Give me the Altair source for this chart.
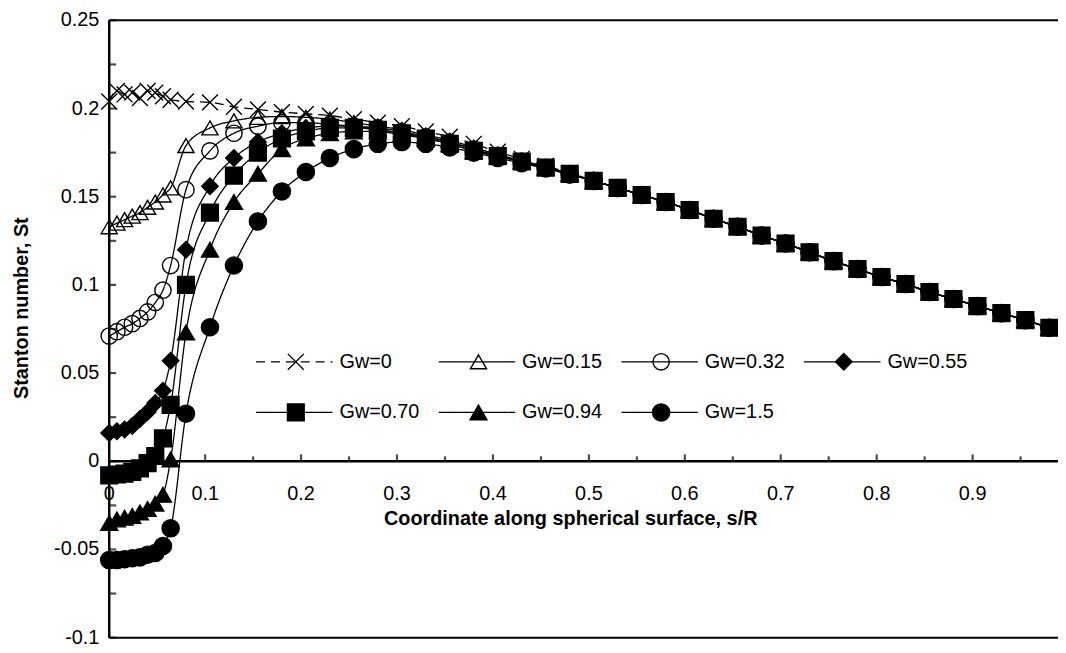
import altair as alt
import pandas as pd

# ---------------- data ----------------
s_R = [0, 0.008, 0.016, 0.024, 0.032, 0.04, 0.048, 0.056, 0.064,
       0.08, 0.105, 0.13, 0.155, 0.18, 0.205, 0.23, 0.255, 0.28, 0.305, 0.33, 0.355, 0.38,
       0.405, 0.43, 0.455, 0.48, 0.505, 0.53, 0.555, 0.58, 0.605, 0.63, 0.655, 0.68,
       0.705, 0.73, 0.755, 0.78, 0.805, 0.83, 0.855, 0.88, 0.905, 0.93, 0.955, 0.98]

St_Gw0 = [0.204, 0.210, 0.208, 0.209, 0.206, 0.210, 0.209, 0.207, 0.205,
          0.204, 0.2035, 0.201, 0.1995, 0.198, 0.197, 0.196, 0.194, 0.192, 0.190, 0.187, 0.184, 0.180,
          0.1755, 0.1715, 0.1675, 0.1635, 0.159, 0.155, 0.151, 0.147, 0.1425, 0.1375, 0.133, 0.128,
          0.1235, 0.1185, 0.1135, 0.109, 0.1045, 0.1005, 0.096, 0.092, 0.088, 0.084, 0.080, 0.0757]
St_Gw015 = [0.133, 0.135, 0.137, 0.139, 0.141, 0.144, 0.147, 0.151, 0.155,
            0.179, 0.189, 0.193, 0.195, 0.1955, 0.195, 0.194, 0.192, 0.190, 0.188, 0.185, 0.182, 0.178,
            0.174, 0.1705, 0.167, 0.163, 0.159, 0.155, 0.151, 0.147, 0.1425, 0.1375, 0.133, 0.128,
            0.1235, 0.1185, 0.1135, 0.109, 0.1045, 0.1005, 0.096, 0.092, 0.088, 0.084, 0.080, 0.0757]
St_Gw032 = [0.071, 0.0735, 0.076, 0.078, 0.081, 0.0847, 0.090, 0.097, 0.111,
            0.154, 0.176, 0.186, 0.190, 0.192, 0.192, 0.191, 0.190, 0.189, 0.187, 0.184, 0.181, 0.177,
            0.1735, 0.170, 0.1665, 0.163, 0.159, 0.155, 0.151, 0.147, 0.1425, 0.1375, 0.133, 0.128,
            0.1235, 0.1185, 0.1135, 0.109, 0.1045, 0.1005, 0.096, 0.092, 0.088, 0.084, 0.080, 0.0757]
St_Gw055 = [0.016, 0.017, 0.018, 0.020, 0.024, 0.028, 0.033, 0.040, 0.057,
            0.120, 0.156, 0.172, 0.181, 0.186, 0.189, 0.190, 0.190, 0.188, 0.186, 0.184, 0.181, 0.177,
            0.173, 0.170, 0.1665, 0.163, 0.159, 0.155, 0.151, 0.147, 0.1425, 0.1375, 0.133, 0.128,
            0.1235, 0.1185, 0.1135, 0.109, 0.1045, 0.1005, 0.096, 0.092, 0.088, 0.084, 0.080, 0.0757]
St_Gw070 = [-0.008, -0.0075, -0.007, -0.006, -0.004, -0.001, 0.003, 0.013, 0.032,
            0.100, 0.141, 0.162, 0.175, 0.183, 0.187, 0.189, 0.189, 0.188, 0.186, 0.183, 0.180, 0.176,
            0.173, 0.170, 0.1665, 0.163, 0.159, 0.155, 0.151, 0.147, 0.1425, 0.1375, 0.133, 0.128,
            0.1235, 0.1185, 0.1135, 0.109, 0.1045, 0.1005, 0.096, 0.092, 0.088, 0.084, 0.080, 0.0757]
St_Gw094 = [-0.035, -0.033, -0.032, -0.031, -0.029, -0.027, -0.024, -0.019, 0.001,
            0.073, 0.120, 0.147, 0.163, 0.177, 0.183, 0.186, 0.187, 0.187, 0.185, 0.183, 0.180, 0.176,
            0.173, 0.170, 0.1665, 0.163, 0.159, 0.155, 0.151, 0.147, 0.1425, 0.1375, 0.133, 0.128,
            0.1235, 0.1185, 0.1135, 0.109, 0.1045, 0.1005, 0.096, 0.092, 0.088, 0.084, 0.080, 0.0757]
St_Gw15 = [-0.056, -0.056, -0.0555, -0.055, -0.0545, -0.053, -0.052, -0.048, -0.038,
           0.027, 0.076, 0.111, 0.136, 0.153, 0.164, 0.172, 0.177, 0.180, 0.181, 0.180, 0.178, 0.175,
           0.172, 0.169, 0.166, 0.1625, 0.159, 0.155, 0.151, 0.147, 0.1425, 0.1375, 0.133, 0.128,
           0.1235, 0.1185, 0.1135, 0.109, 0.1045, 0.1005, 0.096, 0.092, 0.088, 0.084, 0.080, 0.0757]

series_names = ["Gw=0", "Gw=0.15", "Gw=0.32", "Gw=0.55", "Gw=0.70", "Gw=0.94", "Gw=1.5"]
series_values = [St_Gw0, St_Gw015, St_Gw032, St_Gw055, St_Gw070, St_Gw094, St_Gw15]

x_tick_values = [0, 0.1, 0.2, 0.3, 0.4, 0.5, 0.6, 0.7, 0.8, 0.9]
x_tick_labels = ["0", "0.1", "0.2", "0.3", "0.4", "0.5", "0.6", "0.7", "0.8", "0.9"]
x_minor_ticks = [0.05, 0.15, 0.25, 0.35, 0.45, 0.55, 0.65, 0.75, 0.85, 0.95]
y_tick_values = [-0.1, -0.05, 0, 0.05, 0.1, 0.15, 0.2, 0.25]
y_tick_labels = ["-0.1", "-0.05", "0", "0.05", "0.1", "0.15", "0.2", "0.25"]
y_all_ticks = [-0.1, -0.075, -0.05, -0.025, 0, 0.025, 0.05, 0.075, 0.1, 0.125, 0.15, 0.175, 0.2, 0.225, 0.25]

x_title = "Coordinate along spherical surface, s/R"
y_title = "Stanton number, St"

# ---------------- styling ----------------
FONT = "Liberation Sans"
FS = 20
X_DOMAIN = [0, 0.989]
Y_DOMAIN = [-0.1, 0.25]
W, H = 956, 622

X_CROSS = "M-1,-1L1,1M-1,1L1,-1"
shape_range = [X_CROSS, "triangle-up", "circle", "diamond", "square", "triangle-up", "circle"]
fill_range = ["transparent", "transparent", "transparent", "black", "black", "black", "black"]
size_range = [256, 300, 289, 256, 225, 300, 289]
dash_range = [[9, 6], [1, 0], [1, 0], [1, 0], [1, 0], [1, 0], [1, 0]]

rows = []
for name, vals in zip(series_names, series_values):
    for xv, yv in zip(s_R, vals):
        rows.append({"series": name, "x": xv, "y": yv})
df = pd.DataFrame(rows)

xscale = alt.Scale(domain=X_DOMAIN, nice=False, zero=False)
yscale = alt.Scale(domain=Y_DOMAIN, nice=False, zero=False)

shape_enc = alt.Shape("series:N", scale=alt.Scale(domain=series_names, range=shape_range), legend=None)
fill_enc = alt.Fill("series:N", scale=alt.Scale(domain=series_names, range=fill_range), legend=None)
size_enc = alt.Size("series:N", scale=alt.Scale(domain=series_names, range=size_range), legend=None)
dash_enc = alt.StrokeDash("series:N", scale=alt.Scale(domain=series_names, range=dash_range), legend=None)

lines = alt.Chart(df).mark_line(color="black", strokeWidth=1.3, interpolate="monotone").encode(
    x=alt.X("x:Q", scale=xscale, axis=None),
    y=alt.Y("y:Q", scale=yscale, axis=None),
    detail="series:N",
    strokeDash=dash_enc,
)

points = alt.Chart(df).mark_point(filled=True, stroke="black", strokeWidth=1.4, opacity=1).encode(
    x=alt.X("x:Q", axis=None),
    y=alt.Y("y:Q", axis=None),
    shape=shape_enc, fill=fill_enc, size=size_enc,
)

# ---------------- axes (drawn as marks so the x axis can cross at St = 0) ----------------
y_line = alt.Chart(pd.DataFrame({"a": [Y_DOMAIN[0]], "b": [Y_DOMAIN[1]]})).mark_rule(
    color="black", strokeWidth=2.5).encode(
    x=alt.XDatum(0, axis=None), y=alt.Y("a:Q", axis=None), y2="b:Q")
x_line = alt.Chart(pd.DataFrame({"a": [X_DOMAIN[0]], "b": [X_DOMAIN[1]]})).mark_rule(
    color="black", strokeWidth=2.5).encode(
    y=alt.YDatum(0, axis=None), x=alt.X("a:Q", axis=None), x2="b:Q")
frame = alt.Chart(pd.DataFrame({"a": [X_DOMAIN[0]] * 2, "b": [X_DOMAIN[1]] * 2,
                                "v": [Y_DOMAIN[1], Y_DOMAIN[0]]})).mark_rule(
    color="black", strokeWidth=2).encode(
    y=alt.Y("v:Q", axis=None), x=alt.X("a:Q", axis=None), x2="b:Q")

xt_major = alt.Chart(pd.DataFrame({"v": x_tick_values[1:]})).mark_tick(
    orient="vertical", size=7, thickness=2.2, color="black", yOffset=-3.5).encode(
    x=alt.X("v:Q", axis=None), y=alt.YDatum(0, axis=None))
xt_minor = alt.Chart(pd.DataFrame({"v": x_minor_ticks})).mark_tick(
    orient="vertical", size=5, thickness=2.2, color="black", yOffset=-2.5).encode(
    x=alt.X("v:Q", axis=None), y=alt.YDatum(0, axis=None))
yt = alt.Chart(pd.DataFrame({"v": y_all_ticks})).mark_tick(
    orient="horizontal", size=7, thickness=2.2, color="black", xOffset=3.5).encode(
    y=alt.Y("v:Q", axis=None), x=alt.XDatum(0, axis=None))

x_lab = alt.Chart(pd.DataFrame({"v": x_tick_values, "t": x_tick_labels})).mark_text(
    align="center", baseline="middle", dy=33, fontSize=FS, font=FONT, color="black").encode(
    x=alt.X("v:Q", axis=None), y=alt.YDatum(0, axis=None), text="t:N")
y_lab = alt.Chart(pd.DataFrame({"v": y_tick_values, "t": y_tick_labels})).mark_text(
    align="right", baseline="middle", dx=-10, fontSize=FS, font=FONT, color="black").encode(
    y=alt.Y("v:Q", axis=None), x=alt.XDatum(0, axis=None), text="t:N")

x_tt = alt.Chart(pd.DataFrame({"t": [x_title]})).mark_text(
    align="center", baseline="middle", dy=58, fontSize=FS, fontWeight="bold", font=FONT,
    color="black").encode(x=alt.value(465), y=alt.YDatum(0, axis=None), text="t:N")
y_tt = alt.Chart(pd.DataFrame({"t": [y_title]})).mark_text(
    align="center", baseline="middle", angle=270, fontSize=FS, fontWeight="bold", font=FONT,
    color="black").encode(x=alt.value(-88), y=alt.value(290), text="t:N")

# ---------------- legend drawn inside the plot (two rows) ----------------
leg_cols = [0, 1, 2, 3, 0, 1, 2]
leg_rows = [0, 0, 0, 0, 1, 1, 1]
leg = pd.DataFrame({"series": series_names, "col": leg_cols, "row": leg_rows})
leg["x0"] = 0.1531 + leg["col"] * 0.1904
leg["x1"] = leg["x0"] + 0.0797
leg["xm"] = leg["x0"] + 0.0414
leg["xt"] = leg["x0"] + 0.0869
leg["y"] = 0.0564 - leg["row"] * 0.0287

leg_lines = alt.Chart(leg).mark_rule(color="black", strokeWidth=1.3).encode(
    x=alt.X("x0:Q", axis=None), x2="x1:Q", y=alt.Y("y:Q", axis=None), strokeDash=dash_enc)
leg_pts = alt.Chart(leg).mark_point(filled=True, stroke="black", strokeWidth=1.4, opacity=1).encode(
    x=alt.X("xm:Q", axis=None), y=alt.Y("y:Q", axis=None),
    shape=shape_enc, fill=fill_enc, size=size_enc)
leg_txt = alt.Chart(leg).mark_text(align="left", baseline="middle", fontSize=FS, font=FONT,
                                   color="black").encode(
    x=alt.X("xt:Q", axis=None), y=alt.Y("y:Q", axis=None), text="series:N")

chart = alt.layer(
    lines, frame, x_line, y_line, xt_major, xt_minor, yt, x_lab, y_lab, x_tt, y_tt,
    points, leg_lines, leg_pts, leg_txt,
).properties(
    width=W, height=H,
    padding={"left": 102, "top": 10, "right": 0, "bottom": 13},
    autosize=alt.AutoSizeParams(type="none"),
).configure_view(strokeWidth=0)

chart.save("out.html", embed_options={"renderer": "svg", "actions": False})
